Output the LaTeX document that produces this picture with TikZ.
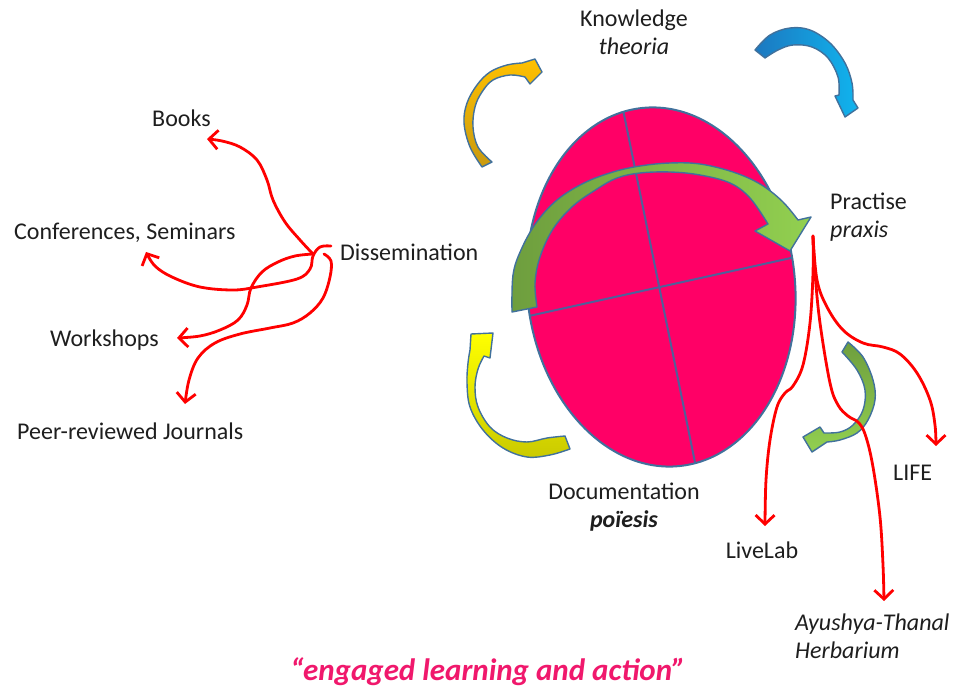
\documentclass[tikz,border=0pt]{standalone}
\usepackage{fontspec}
\setmainfont{Carlito}
\usetikzlibrary{arrows.meta}
\definecolor{pinkfill}{HTML}{FF0066}
\definecolor{edgeblue}{HTML}{41719C}
\definecolor{lineblue}{HTML}{50609A}
\definecolor{txt}{HTML}{1E1E1E}
\definecolor{tagpink}{HTML}{F0186C}
\definecolor{goldT}{HTML}{FFC000}
\definecolor{goldB}{HTML}{C99A10}
\definecolor{blueD}{HTML}{1C78C0}
\definecolor{blueL}{HTML}{10B4EE}
\definecolor{grD}{HTML}{6E9E3E}
\definecolor{grL}{HTML}{92D050}
\definecolor{yelT}{HTML}{FFFF00}
\definecolor{yelB}{HTML}{CACA00}
\definecolor{redline}{HTML}{FF0000}
\begin{document}
\begin{tikzpicture}[x=1pt,y=-1pt,
  lbl/.style={font=\fontsize{24}{28}\selectfont, text=txt, inner sep=0pt},
  redarr/.style={draw=redline, line width=2.8pt, line cap=round, line join=round,
    -{Straight Barb[length=9pt,width=19pt]}},
  blockarrow/.style={draw=edgeblue, line width=1.4pt, line join=round},
  smoothp/.style={smooth, tension=0.6}]
\useasboundingbox (0,0) rectangle (954,687);

% ---------- central ellipse ----------
\fill[pinkfill, rotate around={6:(661,287)}] (661,287) ellipse [x radius=134pt, y radius=180pt];
\begin{scope}
  \clip[rotate around={6:(661,287)}] (661,287) ellipse [x radius=134pt, y radius=180pt];
  \draw[lineblue, line width=2pt] (619,90) -- (699,482);
  \draw[lineblue, line width=2pt] (520,318) -- (800,256);
\end{scope}
\draw[edgeblue, line width=2pt, rotate around={6:(661,287)}] (661,287) ellipse [x radius=134pt, y radius=180pt];

% ---------- curved block arrows ----------
% gold (top left)
\shadedraw[blockarrow, top color=goldT, bottom color=goldB]
  plot[smoothp] coordinates {(482,167) (470,147) (464,123) (467,103) (477,85) (490,72) (507,65) (522,63)}
  -- (535,59) -- (542,72) -- (530,84) -- (525,77)
  -- plot[smoothp] coordinates {(525,77) (510,75) (493,80) (482,92) (475,107) (473,127) (478,147) (492,162)}
  -- cycle;
% blue (top right)
\shadedraw[blockarrow, left color=blueD, right color=blueL]
  plot[smoothp] coordinates {(755,50) (770,35) (790,28) (810,30) (830,43) (845,63) (852,83) (853,100)}
  -- (858,108) -- (845,117) -- (835,96) -- (839,95)
  -- plot[smoothp] coordinates {(839,95) (838,77) (828,58) (812,47) (793,45) (778,50) (765,58)}
  -- cycle;
% big green (over the ellipse)
\shadedraw[blockarrow, left color=grD, right color=grL]
  plot[smoothp] coordinates {(512,312) (513,275) (521,250) (536,223) (557,200) (584,183) (613,172) (640,166) (670,163) (700,164) (733,172) (760,184) (782,201) (798,220)}
  -- (811,217) -- (790,251) -- (755,231) -- (768,224)
  -- plot[smoothp] coordinates {(768,224) (750,198) (730,183) (700,175) (670,172) (640,173) (617,178) (597,189) (573,206) (553,229) (540,257) (535,283) (537,307)}
  -- cycle;
% yellow (bottom left)
\shadedraw[blockarrow, top color=yelT, bottom color=yelB]
  plot[smoothp] coordinates {(570,449) (550,455) (527,457) (503,448) (483,430) (470,407) (467,383) (468,363) (470,350)}
  -- (471,334) -- (493,333) -- (490,358) -- (484,356)
  -- plot[smoothp] coordinates {(484,356) (478,369) (475,387) (478,407) (490,427) (507,438) (527,442) (547,438) (565,436)}
  -- cycle;
% small green (right)
\shadedraw[blockarrow, top color=grD, bottom color=grL]
  plot[smoothp] coordinates {(848,342) (863,357) (873,380) (875,400) (868,420) (857,433) (840,440) (827,442)}
  -- (812,452) -- (803,437) -- (820,427) -- (824,433)
  -- plot[smoothp] coordinates {(824,433) (840,432) (853,425) (863,410) (865,390) (857,370) (842,352)}
  -- cycle;

% ---------- labels ----------
\node[lbl, anchor=base west] (books) at (152,127) {Books};
\node[lbl, anchor=base west] (conf) at (14,240) {Conferences, Seminars};
\node[lbl, anchor=base west] (diss) at (340,261) {Dissemination};
\node[lbl, anchor=base west] (work) at (50,346) {Workshops};
\node[lbl, anchor=base west] (journ) at (17,439) {Peer-reviewed Journals};
\node[lbl, align=center, anchor=base] (know) at (634,55) {Knowledge\\\textit{theoria}};
\node[lbl, align=left, anchor=base west] (prac) at (830,238) {Practise\\\textit{praxis}};
\node[lbl, align=center, anchor=base] (doc) at (624,527) {Documentation\\\textbf{\textit{poïesis}}};
\node[lbl, anchor=base] (live) at (762,558) {LiveLab};
\node[lbl, anchor=base west] (life) at (893,480) {LIFE};
\node[lbl, align=left, anchor=base west, font=\fontsize{24}{28}\selectfont\itshape] (herb) at (795,658) {Ayushya-Thanal\\Herbarium};
\node[anchor=base, inner sep=0pt, text=tagpink, font=\fontsize{31}{34}\selectfont\bfseries\itshape] (tag) at (488,680) {“engaged learning and action”};

% ---------- red connectors: dissemination ----------
\coordinate (hubA) at (313,254);
\coordinate (hubB) at (331,246);
\coordinate (hubC) at (324,254);
\coordinate (tBooks) at (207,139);
\coordinate (tConf) at (146,252);
\coordinate (tWork) at (177,338);
\coordinate (tJourn) at (185,404);
\draw[redarr] plot[smoothp] coordinates {(hubA) (300,240) (285,222) (273,200) (267,180) (257,160) (240,147) (222,141) (tBooks)};
\draw[redarr] plot[smoothp] coordinates {(hubB) (320,247) (313,256) (310,269) (297,279) (257,287) (233,290) (200,287) (172,277) (155,266) (tConf)};
\draw[redarr] plot[smoothp] coordinates {(hubA) (295,256) (278,262) (262,272) (251,288) (247,305) (238,320) (220,330) (200,336) (tWork)};
\draw[redarr] plot[smoothp] coordinates {(hubC) (331,261) (330,277) (323,298) (310,313) (293,323) (270,328) (240,334) (215,343) (198,358) (189,380) (tJourn)};

% ---------- red connectors: praxis ----------
\coordinate (px) at (813,236);
\coordinate (tLive) at (765,526);
\coordinate (tAyu) at (884,601);
\coordinate (tLife) at (936,446);
\draw[redarr] plot[smoothp] coordinates {(px) (813,273) (810,323) (803,365) (793,386) (785,393) (777,407) (770,440) (766,480) (tLive)};
\draw[redarr] plot[smoothp] coordinates {(px) (815,273) (820,323) (830,383) (838,405) (848,416) (859,423) (866,437) (873,467) (880,517) (883,565) (tAyu)};
\draw[redarr] plot[smoothp] coordinates {(px) (817,280) (827,307) (843,330) (863,343) (883,347) (900,354) (917,373) (930,400) (935,425) (tLife)};
\end{tikzpicture}
\end{document}
